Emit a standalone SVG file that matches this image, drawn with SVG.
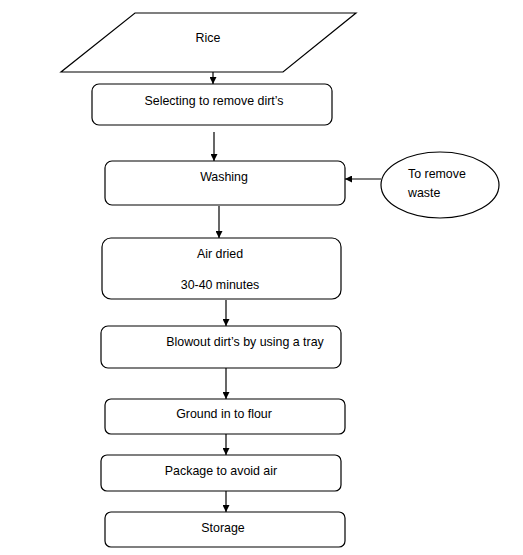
<svg xmlns="http://www.w3.org/2000/svg" width="523" height="555" viewBox="0 0 523 555">
<style>
.b{fill:#fff;stroke:#000;stroke-width:1.2}
.t{font-family:"Liberation Sans",Arial,sans-serif;font-size:12.4px;fill:#000;text-anchor:middle}
.l{fill:none;stroke:#000;stroke-width:1.2}
</style>
<defs>
<marker id="a" viewBox="0 0 10 10" refX="10" refY="5" markerWidth="7" markerHeight="7" markerUnits="userSpaceOnUse" orient="auto">
<path d="M0,0 L10,5 L0,10 Z" fill="#000"/>
</marker>
</defs>
<rect width="523" height="555" fill="#fff"/>
<g id="connectors">
<line class="l" x1="213" y1="72" x2="213" y2="84" marker-end="url(#a)"/>
<line class="l" x1="214" y1="132" x2="214" y2="161" marker-end="url(#a)"/>
<line class="l" x1="381" y1="179" x2="345" y2="179" marker-end="url(#a)"/>
<line class="l" x1="219" y1="206" x2="219" y2="238" marker-end="url(#a)"/>
<line class="l" x1="226" y1="300" x2="226" y2="326" marker-end="url(#a)"/>
<line class="l" x1="226" y1="368" x2="226" y2="399" marker-end="url(#a)"/>
<line class="l" x1="226" y1="434" x2="226" y2="455" marker-end="url(#a)"/>
<line class="l" x1="226" y1="491" x2="226" y2="512" marker-end="url(#a)"/>
</g>
<g id="rice">
<polygon class="b" points="135,13 356,13 283,72 61,72"/>
<text class="t" x="208" y="42">Rice</text>
</g>
<g id="selecting">
<rect class="b" x="92" y="84" width="240" height="41" rx="7"/>
<text class="t" x="214" y="105">Selecting to remove dirt’s</text>
</g>
<g id="washing">
<rect class="b" x="105" y="161" width="240" height="44" rx="7"/>
<text class="t" x="224" y="181">Washing</text>
</g>
<g id="waste">
<ellipse class="b" cx="440" cy="185" rx="59" ry="33"/>
<text class="t" x="408" y="178" style="text-anchor:start">To remove</text>
<text class="t" x="408" y="197" style="text-anchor:start">waste</text>
</g>
<g id="airdried">
<rect class="b" x="102" y="238" width="239" height="61" rx="9"/>
<text class="t" x="220" y="258">Air dried</text>
<text class="t" x="220" y="289">30-40 minutes</text>
</g>
<g id="blowout">
<rect class="b" x="101" y="326" width="240" height="42" rx="7"/>
<text class="t" x="245" y="346">Blowout dirt’s by using a tray</text>
</g>
<g id="ground">
<rect class="b" x="105" y="399" width="240" height="35" rx="6"/>
<text class="t" x="224" y="418">Ground in to flour</text>
</g>
<g id="package">
<rect class="b" x="101" y="455" width="240" height="36" rx="6"/>
<text class="t" x="221" y="475">Package to avoid air</text>
</g>
<g id="storage">
<rect class="b" x="105" y="512" width="240" height="35" rx="6"/>
<text class="t" x="223" y="532">Storage</text>
</g>
</svg>
